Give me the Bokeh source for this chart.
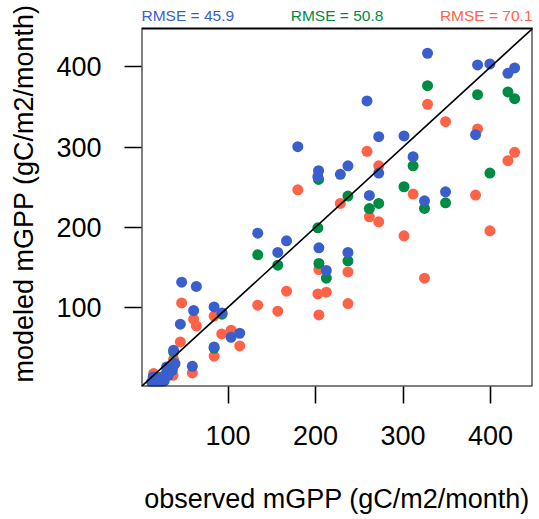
from bokeh.plotting import figure
from bokeh.models import Range1d, Slope, FixedTicker, BoxAnnotation
from bokeh.core.properties import value
from bokeh.embed import file_html
from bokeh.resources import INLINE

# ---- data ----
x_ticks = [100, 200, 300, 400]
y_ticks = [100, 200, 300, 400]
axis_min, axis_max = 1, 448

blue_obs = [427.6, 419.9, 399.3, 385.2, 382.9, 348.6, 328.0, 324.5, 311.5, 301.1, 272.2, 272.2,
            261.5, 258.8, 237.0, 228.3, 203.4, 202.6, 179.7, 237.0, 212.3, 203.8, 166.8, 156.8,
            133.9, 46.9, 63.7, 60.6, 84.0, 93.1, 45.4, 37.7, 103.4, 113.3, 84.0, 59.1, 39.3,
            29.7, 31.6, 23.9, 14.4, 12.5, 20.2, 36.2, 18.0, 27.0, 34.0]
blue_mod = [398.8, 392.1, 403.8, 402.5, 315.4, 244.1, 417.1, 232.9, 287.9, 313.8, 312.9, 267.5,
            239.6, 357.5, 276.6, 265.9, 270.4, 262.9, 300.4, 168.4, 145.9, 174.1, 182.9, 168.4,
            192.5, 131.3, 125.9, 95.9, 100.4, 92.9, 78.8, 46.3, 62.5, 67.5, 50.4, 26.3, 29.6,
            25.4, 15.0, 12.9, 12.9, 6.6, 4.6, 21.3, 9.0, 8.0, 20.0]

green_obs = [427.6, 419.9, 399.3, 385.2, 348.6, 328.0, 324.5, 311.5, 301.1, 272.2, 261.5, 237.0,
             203.4, 237.0, 202.6, 203.8, 212.3, 156.8, 133.9, 93.1, 84.0, 37.7, 30.0, 20.0]
green_mod = [360.4, 368.8, 267.5, 365.4, 230.4, 376.6, 223.4, 276.6, 250.4, 229.6, 223.1, 238.8,
             259.6, 157.9, 199.1, 154.6, 136.3, 152.5, 165.4, 91.3, 48.8, 44.1, 20.0, 10.0]

red_obs = [427.6, 419.9, 399.3, 385.2, 382.9, 348.6, 328.0, 324.5, 311.5, 301.1, 272.2, 272.2,
           261.5, 258.8, 228.3, 179.7, 237.0, 237.0, 203.8, 202.6, 212.3, 203.8, 166.8, 156.8,
           133.9, 46.9, 60.6, 63.7, 84.0, 45.4, 37.7, 92.7, 103.4, 113.3, 84.0, 59.1, 37.7,
           37.0, 14.8, 22.0]
red_mod = [293.4, 282.9, 195.4, 322.5, 240.0, 331.6, 353.4, 136.3, 241.3, 189.1, 276.6, 206.6,
           212.9, 294.6, 229.6, 246.6, 144.1, 104.6, 147.1, 116.6, 118.8, 90.4, 120.0, 95.0,
           102.5, 105.4, 85.0, 76.6, 88.8, 56.6, 35.0, 66.6, 71.3, 51.6, 38.8, 17.9, 26.3,
           15.0, 17.1, 12.0]

rmse_labels = ["RMSE = 45.9", "RMSE = 50.8", "RMSE = 70.1"]
colors = ["#3A5FCD", "#008B45", "#FF6347"]

FONT = "Liberation Sans"

# layout (pixels)
BOX_H = 358          # height of the plotting box
TOP_GAP = 28         # space above box for the RMSE texts
ppu = BOX_H / (axis_max - axis_min)
y_end = axis_max + TOP_GAP / ppu

p = figure(width=538, height=518, output_backend="svg", toolbar_location=None,
           x_range=Range1d(axis_min, axis_max), y_range=Range1d(axis_min, y_end),
           min_border_left=141, min_border_right=6, min_border_top=0, min_border_bottom=132)

p.grid.visible = False
p.outline_line_color = None
p.background_fill_color = "white"
p.border_fill_color = "white"

for ax, ticks in ((p.xaxis, x_ticks), (p.yaxis, y_ticks)):
    ax.ticker = FixedTicker(ticks=ticks)
    ax.axis_line_color = None
    ax.major_tick_out = 17
    ax.major_tick_in = 0
    ax.major_tick_line_width = 1.6
    ax.major_tick_line_color = "black"
    ax.minor_tick_line_color = None
    ax.major_label_text_font = FONT
    ax.major_label_text_font_size = "27px"
    ax.major_label_text_color = "black"
    ax.axis_label_text_font = FONT
    ax.axis_label_text_font_size = "27px"
    ax.axis_label_text_font_style = "normal"
    ax.axis_label_text_color = "black"

p.xaxis.major_label_standoff = 22
p.yaxis.major_label_standoff = 23
p.xaxis.axis_label = "observed mGPP (gC/m2/month)"
p.yaxis.axis_label = "modeled mGPP (gC/m2/month)"
p.xaxis.axis_label_standoff = 36
p.yaxis.axis_label_standoff = 14

# plotting box
p.add_layout(BoxAnnotation(left=axis_min, right=axis_max, bottom=axis_min, top=axis_max,
                           fill_color=None, fill_alpha=0, line_color="black",
                           line_alpha=1.0, line_width=2))

p.add_layout(Slope(gradient=1, y_intercept=0, line_color="black", line_width=1.6))

p.scatter(red_obs, red_mod, size=11, color=colors[2], line_color=None)
p.scatter(green_obs, green_mod, size=11, color=colors[1], line_color=None)
p.scatter(blue_obs, blue_mod, size=11, color=colors[0], line_color=None)

aligns = ["left", "center", "right"]
xs = [axis_min, (axis_min + axis_max) / 2, axis_max]
label_y = axis_max + 13 / ppu
for txt, col, al, xx in zip(rmse_labels, colors, aligns, xs):
    p.text(x=[xx], y=[label_y], text=[txt], text_color=col, text_align=al,
           text_baseline="middle", text_font=value(FONT), text_font_size="15.5px")

open("out.html", "w").write(file_html(p, INLINE))
